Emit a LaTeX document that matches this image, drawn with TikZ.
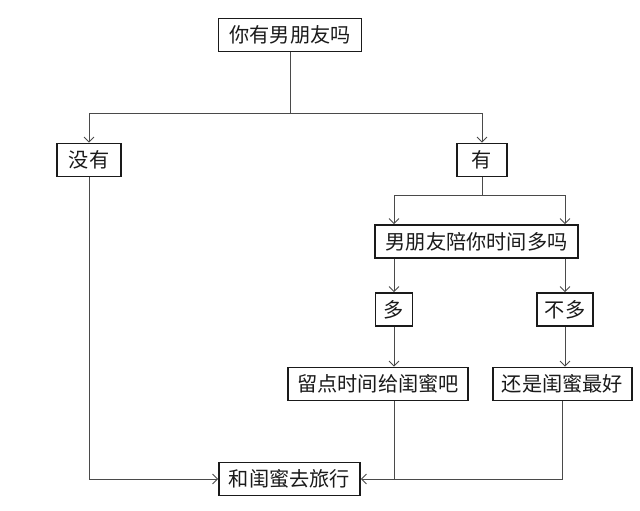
\documentclass[tikz,border=0pt]{standalone}
\usepackage{xcolor}
\usepackage{fontspec}
\usepackage{tikz}
\usetikzlibrary{calc,arrows.meta}
\newfontfamily\cjk{Noto Sans CJK SC}
\definecolor{bg}{HTML}{FFFFFF}
\definecolor{ink}{HTML}{1A1A1A}
\definecolor{wire}{HTML}{4A4A4A}
\tikzset{
  box/.style={draw=ink, line width=1.6pt, text=ink, inner xsep=8pt, inner ysep=0pt,
    minimum height=33pt, font=\cjk\fontsize{20.2}{23}\selectfont},
  wirel/.style={draw=wire, line width=0.9pt},
  arr/.style={wirel, -{Straight Barb[length=5pt,width=10pt,line width=0.9pt]}},
}
\begin{document}
\begin{tikzpicture}[x=1pt,y=-1pt]
  \useasboundingbox[fill=bg] (0,0) rectangle (640,511);
  \node[box, minimum width=143pt] (q) at (290,35) {你有男朋友吗};
  \node[box, minimum width=64pt] (no) at (89,160) {没有};
  \node[box, minimum width=50pt] (yes) at (482,160) {有};
  \node[box, minimum width=203pt] (ask) at (476.5,241.5) {男朋友陪你时间多吗};
  \node[box, minimum width=37pt] (many) at (394,309.5) {多};
  \node[box, minimum width=56pt] (few) at (565,309.5) {不多};
  \node[box, minimum width=180pt] (leave) at (378,384) {留点时间给闺蜜吧};
  \node[box, minimum width=139pt] (best) at (562.5,384) {还是闺蜜最好};
  \node[box, minimum width=141pt] (trip) at (289.5,479) {和闺蜜去旅行};
  % splits
  \coordinate (s1) at (290,113);
  \coordinate (s2) at (482,195);
  \draw[wirel] (q.south) -- (s1);
  \draw[arr] (s1) -| (no.north);
  \draw[arr] (s1) -| (yes.north);
  \draw[wirel] (yes.south) -- (s2);
  \draw[arr] (s2) -| (many.north |- ask.north);
  \draw[arr] (s2) -| (few.north |- ask.north);
  \draw[arr] (many.north |- ask.south) -- (many.north);
  \draw[arr] (few.north |- ask.south) -- (few.north);
  \draw[arr] (many.south) -- (many.south |- leave.north);
  \draw[arr] (few.south) -- (few.south |- best.north);
  % to the trip
  \draw[arr] (no.south) |- (trip.west);
  \draw[arr] (best.south) |- (trip.east);
  \draw[wirel] (many.south |- leave.south) -- (many.south |- trip.east);
\end{tikzpicture}
\end{document}
